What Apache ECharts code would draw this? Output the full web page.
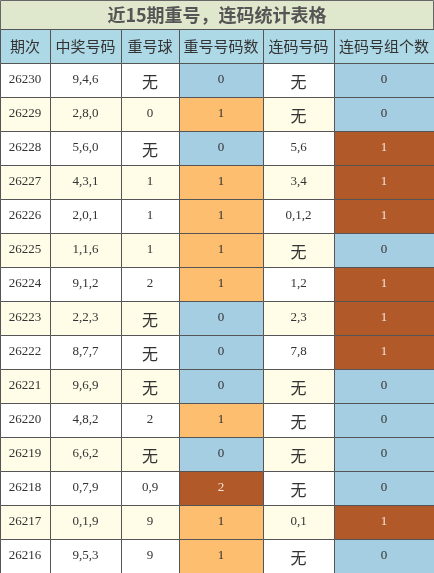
<!DOCTYPE html><html><head><meta charset="utf-8"><script src="https://cdn.jsdelivr.net/npm/echarts@6/dist/echarts.min.js"></script>
<style>html,body{margin:0;padding:0;background:#fff}#c{width:434px;height:573px}</style></head><body><div id="c"></div><script>
const titleText='近15期重号，连码统计表格';
const headers=['期次','中奖号码','重号球','重号号码数','连码号码','连码号组个数'];
const periods=['26230','26229','26228','26227','26226','26225','26224','26223','26222','26221','26220','26219','26218','26217','26216'];
const draws=['9,4,6','2,8,0','5,6,0','4,3,1','2,0,1','1,1,6','9,1,2','2,2,3','8,7,7','9,6,9','4,8,2','6,6,2','0,7,9','0,1,9','9,5,3'];
const repeatBalls=['无','0','无','1','1','1','2','无','无','无','2','无','0,9','9','9'];
const repeatCounts=[0,1,0,1,1,1,1,0,0,0,1,0,2,1,1];
const consec=['无','无','5,6','3,4','0,1,2','无','1,2','2,3','7,8','无','无','无','无','0,1','无'];
const consecCounts=[0,0,1,1,1,0,1,1,1,0,0,0,0,1,0];
const colEdges=[0,50,121,179,263,334,434];
const countColors=['#a6cee3','#fdbf6f','#b15928'];
const consecColors=['#a6cee3','#b15928'];
const rowsLabels=['h'].concat(periods);
const data=[];
headers.forEach((h,c)=>data.push([c,0,h,'#add8e6','#333',true]));
periods.forEach((p,i)=>{
  const r=i+1, base=i%2?'#fffde8':'#ffffff';
  data.push([0,r,p,base,'#333',false]);
  data.push([1,r,draws[i],base,'#333',false]);
  data.push([2,r,repeatBalls[i],base,'#333',false]);
  data.push([3,r,String(repeatCounts[i]),countColors[repeatCounts[i]],repeatCounts[i]==2?'#f3e6da':'#333',false]);
  data.push([4,r,consec[i],base,'#333',false]);
  data.push([5,r,String(consecCounts[i]),consecColors[consecCounts[i]],consecCounts[i]==1?'#f3e6da':'#333',false]);
});
const chart=echarts.init(document.getElementById('c'));
chart.setOption({
 animation:false,
 graphic:[{type:'rect',shape:{x:0.5,y:0.5,width:433,height:29},style:{fill:'#dfe8cc',stroke:'#666',lineWidth:1}},
  {type:'text',x:217,y:15,style:{text:titleText,fill:'#555',font:'bold 18px "Noto Sans CJK SC"',align:'center',verticalAlign:'middle'}}],
 grid:{left:0,right:0,top:29,bottom:0},
 xAxis:{type:'value',min:0,max:434,show:false},
 yAxis:{type:'category',data:rowsLabels,inverse:true,show:false},
 series:[{type:'custom',data:data,renderItem:(params,api)=>{
   const c=api.value(0), r=api.value(1);
   const d=data[params.dataIndex];
   const x0=api.coord([colEdges[c],r])[0], x1=api.coord([colEdges[c+1],r])[0];
   const cy=api.coord([0,r])[1], h=api.size([0,1])[1];
   const txt=d[2];
   const isCJK=/[\u4e00-\u9fff]/.test(txt);
   const font=d[5]?'15px "Noto Sans CJK SC"':(isCJK?'16px "Noto Sans CJK SC"':'13px "Liberation Serif"');
   return {type:'group',children:[
    {type:'rect',shape:{x:x0+0.5,y:cy-h/2+0.5,width:x1-x0,height:h},style:{fill:d[3],stroke:'#555',lineWidth:1}},
    {type:'text',x:(x0+x1)/2,y:cy+(isCJK&&!d[5]?2:0),style:{text:txt,fill:d[4],font:font,align:'center',verticalAlign:'middle'}}
   ]};
 }}]
});
</script></body></html>
